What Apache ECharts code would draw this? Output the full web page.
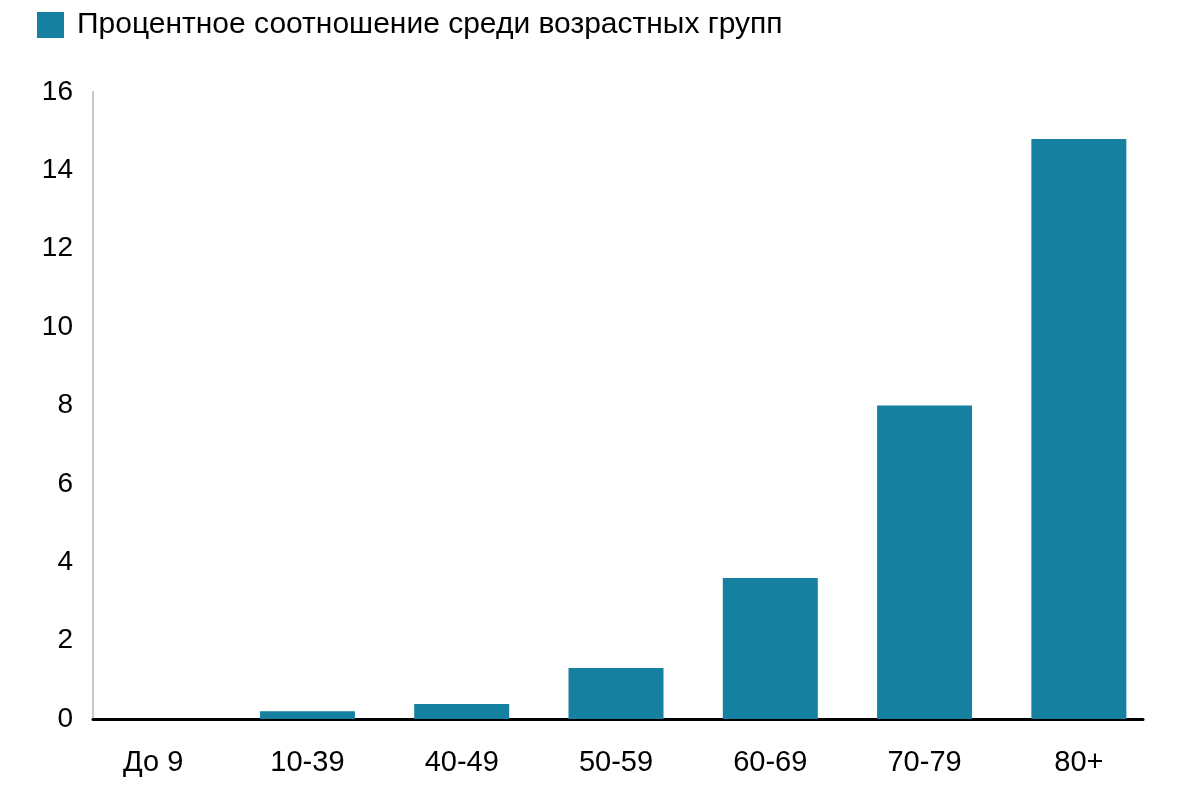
<!DOCTYPE html>
<html>
<head>
<meta charset="utf-8">
<script src="https://cdn.jsdelivr.net/npm/echarts@6/dist/echarts.min.js"></script>
<style>
  html, body { margin: 0; padding: 0; background: #fff; }
  #chart { width: 1200px; height: 800px; }
</style>
</head>
<body>
<div id="chart"></div>
<script>
var categories = ['До 9', '10-39', '40-49', '50-59', '60-69', '70-79', '80+'];
var values = [0, 0.2, 0.38, 1.3, 3.6, 8.0, 14.8];
var seriesName = 'Процентное соотношение среди возрастных групп';
var yMin = 0, yMax = 16, yStep = 2;

var font = '"Liberation Sans", Arial, sans-serif';
var barColor = '#15809f';

var chart = echarts.init(document.getElementById('chart'));

chart.setOption({
  animation: false,
  backgroundColor: '#ffffff',
  textStyle: { fontFamily: font },
  legend: {
    left: 37,
    top: 10,
    padding: 0,
    itemWidth: 27,
    itemHeight: 26,
    icon: 'rect',
    itemStyle: { borderWidth: 0 },
    textStyle: { fontSize: 30, color: '#000', fontFamily: font, padding: [0, 0, 0, 8] },
    data: [seriesName]
  },
  // grid 0 carries the visible frame, grid 1 the bars and labels
  grid: [
    { left: 93, right: 57, top: 92, bottom: 81 },
    { left: 76, right: 44, top: 92, bottom: 81 }
  ],
  xAxis: [
    {
      gridIndex: 0,
      type: 'category',
      data: categories,
      axisLine: { show: true, lineStyle: { color: '#000', width: 3 } },
      axisTick: { show: false },
      axisLabel: { show: false },
      splitLine: { show: false }
    },
    {
      gridIndex: 1,
      type: 'category',
      data: categories,
      axisLine: { show: false },
      axisTick: { show: false },
      axisLabel: { color: '#000', fontSize: 29, margin: 29, fontFamily: font },
      splitLine: { show: false }
    }
  ],
  yAxis: [
    {
      gridIndex: 0,
      type: 'value',
      min: yMin,
      max: yMax,
      interval: yStep,
      axisLine: { show: true, lineStyle: { color: '#c8c8c8', width: 2 } },
      axisTick: { show: false },
      axisLabel: { color: '#000', fontSize: 28, margin: 20, fontFamily: font },
      splitLine: { show: false }
    },
    {
      gridIndex: 1,
      type: 'value',
      min: yMin,
      max: yMax,
      interval: yStep,
      show: false
    }
  ],
  series: [
    {
      name: seriesName,
      type: 'bar',
      xAxisIndex: 1,
      yAxisIndex: 1,
      data: values,
      barWidth: 95,
      itemStyle: { color: barColor, borderWidth: 0 },
      z: 1
    }
  ]
});
</script>
</body>
</html>
